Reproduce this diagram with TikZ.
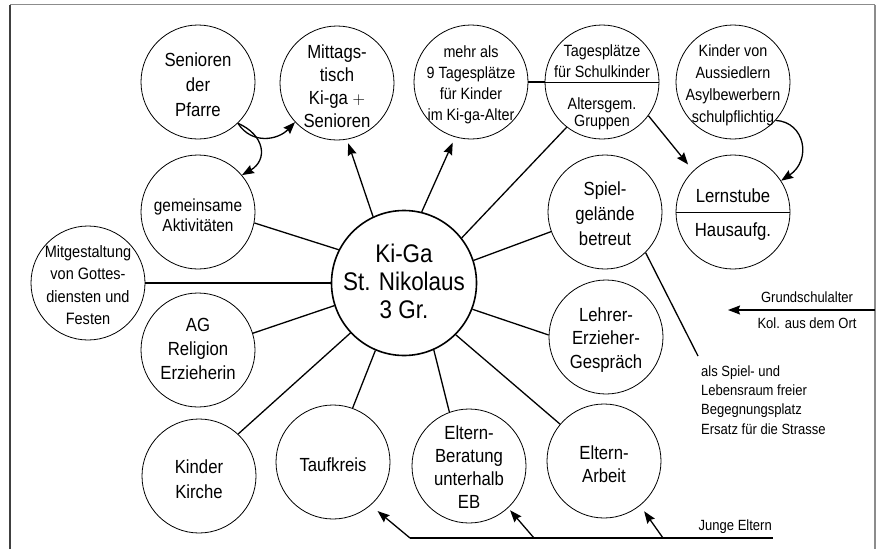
\documentclass[tikz,border=0pt]{standalone}
\usepackage{fontspec}
\setmainfont{Liberation Sans}[FakeStretch=0.88]
\usetikzlibrary{arrows.meta}
\newcommand\fbig{\fontsize{19}{25}\selectfont}
\newcommand\fsmall{\fontsize{16.3}{21}\selectfont}
\newcommand\fhub{\fontsize{25.5}{28}\selectfont}
\newcommand\flab{\fontsize{14.8}{19.3}\selectfont}
\begin{document}
\begin{tikzpicture}[x=1pt,y=-1pt,
  bub/.style={circle,draw,line width=0.8pt,minimum size=114pt,inner sep=0pt},
  hub/.style={circle,draw,line width=1.6pt,minimum size=145pt,inner sep=0pt},
  txt/.style={align=center,inner sep=0pt,yshift=-3pt,font=\fbig},
  stxt/.style={txt,font=\fsmall},
  lab/.style={inner sep=0pt,font=\flab},
  link/.style={line width=1.3pt},
  arr/.style={link,-{Stealth[length=12pt,width=9pt,inset=1.5pt]}},
  divide/.style={line width=0.8pt}
]
\useasboundingbox (0,0) rectangle (880,549);

% frame
\draw[black!75,line width=1.3pt] (10,549) -- (10,4.5);
\draw[black!45,line width=1.3pt] (10,4.5) -- (875,4.5);
\draw[black!45,line width=2pt] (875,4.5) -- (875,549);

% central node
\node[hub] (kiga) at (404,283) {};
\node[txt,font=\fhub,yshift=5pt] (kiga-t) at (kiga) {Ki-Ga\\St. Nikolaus\\3 Gr.};

% surrounding circles
\node[bub] (sen) at (198,82) {};
\node[txt] (sen-t) at (sen) {Senioren\\der\\Pfarre};

\node[bub] (mit) at (337,83) {};
\node[txt,font=\fontsize{19}{23}\selectfont] (mit-t) at (mit) {Mittags-\\tisch\\Ki-ga $+$\\Senioren};

\node[bub] (mehr) at (471,82) {};
\node[stxt] (mehr-t) at (mehr) {mehr als\\9 Tagesplätze\\für Kinder\\im Ki-ga-Alter};

\node[bub] (tag) at (602,82) {};
\draw[divide] (tag.west) -- (tag.east);
\node[stxt,font=\fontsize{16.3}{21.5}\selectfont,yshift=0pt] (tag-u) at (602,58) {Tagesplätze\\für Schulkinder};
\node[stxt,font=\fontsize{16.3}{17.5}\selectfont,yshift=0pt] (tag-l) at (602,111) {Altersgem.\\Gruppen};

\node[bub] (kin) at (733,82) {};
\node[stxt,font=\fontsize{16.3}{22}\selectfont] (kin-t) at (kin) {Kinder von\\Aussiedlern\\Asylbewerbern\\schulpflichtig};

\node[bub] (ler) at (733,212) {};
\draw[divide] (ler.west) -- (ler.east);
\node[txt,yshift=0pt] (ler-u) at (733,193) {Lernstube};
\node[txt,yshift=0pt] (ler-l) at (733,229) {Hausaufg.};

\node[bub] (spiel) at (605,212) {};
\node[txt,yshift=1pt] (spiel-t) at (spiel) {Spiel-\\gelände\\betreut};

\node[bub] (gem) at (198,212) {};
\node[txt,font=\fontsize{17.5}{20}\selectfont] (gem-t) at (gem) {gemeinsame\\Aktivitäten};

\node[bub] (mitg) at (88,283) {};
\node[stxt,font=\fontsize{16.5}{22.5}\selectfont,yshift=1pt] (mitg-t) at (mitg) {Mitgestaltung\\von Gottes-\\diensten und\\Festen};

\node[bub] (ag) at (198,350) {};
\node[txt,font=\fontsize{19}{24}\selectfont,yshift=4pt] (ag-t) at (ag) {AG\\Religion\\Erzieherin};

\node[bub] (kk) at (199,476) {};
\node[txt] (kk-t) at (kk) {Kinder\\Kirche};

\node[bub] (tauf) at (333,462) {};
\node[txt] (tauf-t) at (tauf) {Taufkreis};

\node[bub] (eb) at (469,466) {};
\node[txt,font=\fontsize{19}{23}\selectfont,yshift=2pt] (eb-t) at (eb) {Eltern-\\Beratung\\unterhalb\\EB};

\node[bub] (ea) at (604,461) {};
\node[txt,font=\fontsize{19}{23}\selectfont] (ea-t) at (ea) {Eltern-\\Arbeit};

\node[bub] (lehr) at (606,337) {};
\node[txt,font=\fontsize{19}{23.5}\selectfont] (lehr-t) at (lehr) {Lehrer-\\Erzieher-\\Gespräch};

% spokes from the centre
\draw[link] (kiga.153)  -- (gem.-11);
\draw[link] (kiga.180)  -- (mitg.0);
\draw[link] (kiga.-162) -- (ag.17);
\draw[link] (kiga.-137) -- (kk.47);
\draw[link] (kiga.-113) -- (tauf.70);
\draw[link] (kiga.-66)  -- (eb.110);
\draw[link] (kiga.-45)  -- (ea.140);
\draw[link] (kiga.-21)  -- (lehr.178);
\draw[link] (kiga.18)   -- (spiel.-160);
\draw[link] (kiga.38)   -- (tag.-128);
\draw[arr,shorten >=6pt] (kiga.76)  -- (mehr.-106);
\draw[arr,shorten >=4pt] (kiga.115) -- (mit.-80);
\draw[link] (mehr.0) -- (tag.180);

% curved and side arrows
\draw[arr] (sen.-46) .. controls (252,145) and (278,140) .. (mit.-137);
\draw[arr] (sen.-46) .. controls (265,135) and (268,160) .. (gem.40);
\draw[arr] (kin.-42) .. controls (805,122) and (812,160) .. (ler.33);
\draw[arr,shorten >=8pt] (tag.-36) -- (ler.134);

% Grundschulalter
\coordinate (gsR) at (875,310);
\coordinate (gsL) at (728,310);
\draw[arr] (gsR) -- (gsL);
\node[lab,anchor=base] (gs1) at (807,302.5) {Grundschulalter};
\node[lab,anchor=base] (gs2) at (807,328) {Kol. aus dem Ort};

% play area note
\coordinate (spN) at (698,356);
\draw[link] (spiel.-45) -- (spN);
\node[lab,align=left,anchor=west] (spT) at (701,400) {als Spiel- und\\Lebensraum freier\\Begegnungsplatz\\Ersatz für die Strasse};

% Junge Eltern
\coordinate (jeL) at (410,538);
\coordinate (jeR) at (773,538);
\coordinate (je2) at (534,538);
\coordinate (je3) at (663,538);
\draw[link,line width=1.5pt] (jeL) -- (jeR);
\draw[arr,shorten >=9pt] (jeL) -- (tauf.-49);
\draw[arr,shorten >=3pt] (je2) -- (eb.-47);
\draw[arr,shorten >=7pt] (je3) -- (ea.-51);
\node[lab,anchor=base east] (je) at (772,530) {Junge Eltern};
\end{tikzpicture}
\end{document}
